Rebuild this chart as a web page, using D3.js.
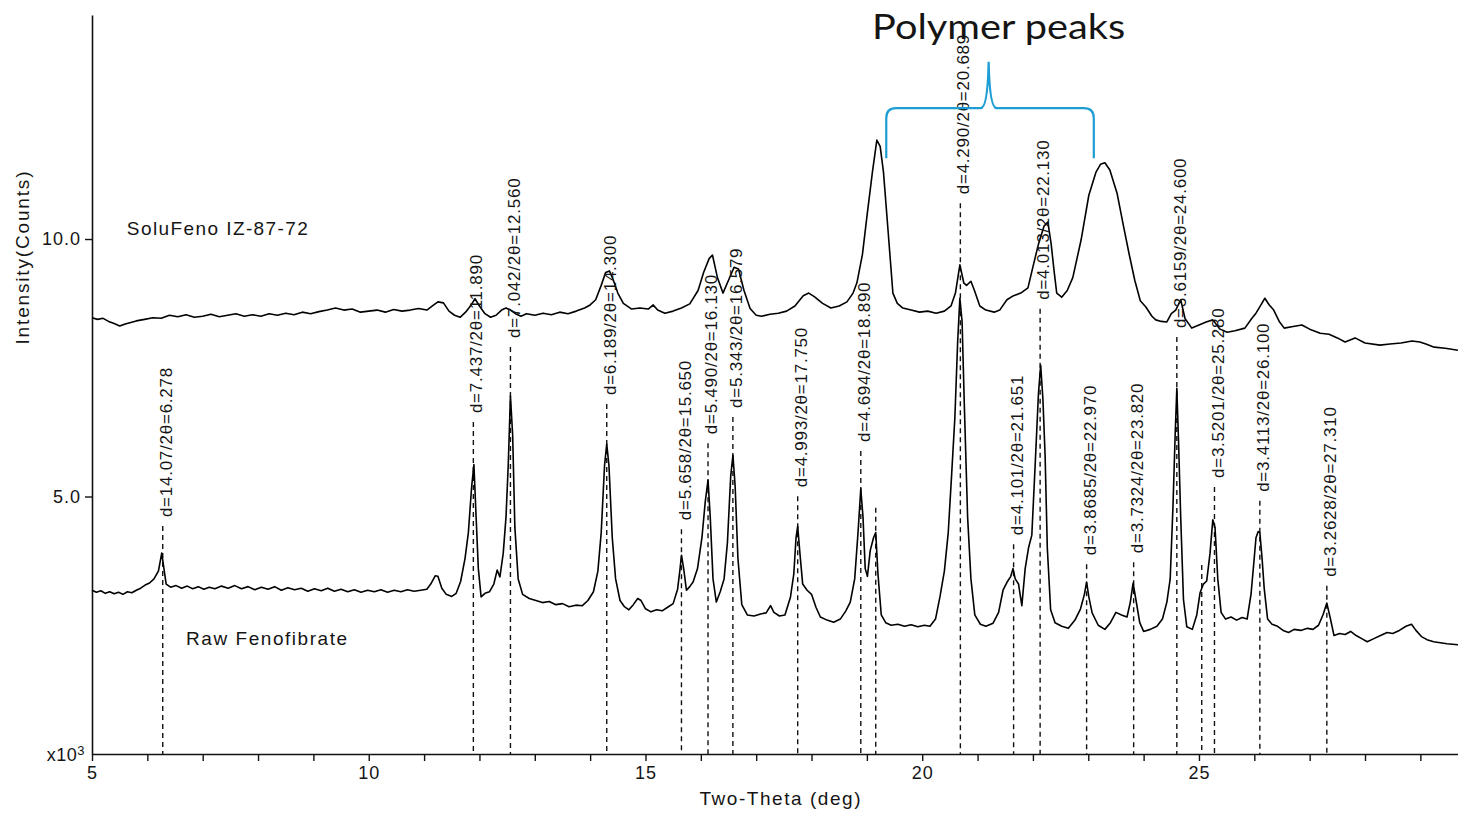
<!DOCTYPE html>
<html><head><meta charset="utf-8">
<script src="https://cdn.jsdelivr.net/npm/d3@7"></script>
<style>
body{margin:0;background:#fff;}
svg{display:block;}
text{font-family:"Liberation Sans",Arial,sans-serif;fill:#151515;}
</style>
</head><body>
<svg id="chart" width="1458" height="813"></svg>
<script>
// ---------- DATA ----------
// SoluFeno IZ-87-72 (upper pattern): 2-theta (deg) and intensity (x10^3 counts)
const soluTheta = [5.00,5.10,5.20,5.30,5.40,5.50,5.60,5.70,5.80,5.95,6.10,6.25,6.40,6.55,6.70,6.85,7.00,7.15,7.30,7.45,7.60,7.75,7.90,8.05,8.20,8.35,8.50,8.65,8.80,8.95,9.10,9.25,9.40,9.55,9.70,9.85,10.00,10.15,10.30,10.45,10.60,10.75,10.90,11.05,11.15,11.25,11.35,11.45,11.55,11.65,11.75,11.85,11.92,12.00,12.10,12.20,12.30,12.40,12.48,12.56,12.65,12.75,12.85,13.00,13.15,13.30,13.45,13.60,13.75,13.90,14.00,14.10,14.20,14.28,14.35,14.42,14.50,14.60,14.75,14.90,15.05,15.14,15.22,15.35,15.50,15.65,15.80,15.95,16.05,16.15,16.21,16.30,16.40,16.50,16.60,16.68,16.78,16.89,17.00,17.10,17.25,17.40,17.55,17.70,17.85,17.95,18.05,18.20,18.35,18.50,18.64,18.75,18.82,18.92,19.00,19.10,19.18,19.24,19.30,19.38,19.47,19.55,19.65,19.80,19.95,20.10,20.25,20.40,20.52,20.60,20.68,20.75,20.80,20.88,20.95,21.04,21.15,21.30,21.40,21.53,21.65,21.78,21.91,22.00,22.10,22.20,22.27,22.33,22.38,22.43,22.52,22.62,22.72,22.87,23.01,23.14,23.22,23.30,23.39,23.52,23.64,23.74,23.84,23.94,24.04,24.15,24.22,24.32,24.42,24.50,24.58,24.67,24.75,24.87,25.00,25.13,25.25,25.38,25.51,25.65,25.83,25.95,26.03,26.12,26.19,26.27,26.35,26.45,26.54,26.70,26.86,27.00,27.19,27.35,27.50,27.64,27.82,28.00,28.27,28.45,28.65,28.85,28.99,29.10,29.25,29.45,29.68];
const soluCounts = [8.47,8.44,8.46,8.40,8.36,8.31,8.35,8.38,8.41,8.44,8.47,8.46,8.52,8.49,8.53,8.48,8.50,8.54,8.49,8.52,8.55,8.50,8.53,8.50,8.55,8.52,8.56,8.53,8.58,8.55,8.59,8.62,8.66,8.62,8.64,8.58,8.60,8.62,8.58,8.63,8.60,8.62,8.65,8.62,8.70,8.78,8.76,8.60,8.52,8.48,8.58,8.72,8.84,8.70,8.55,8.48,8.52,8.62,8.66,8.62,8.55,8.50,8.55,8.52,8.56,8.53,8.58,8.55,8.60,8.66,8.72,8.82,9.10,9.35,9.38,9.20,8.95,8.75,8.64,8.66,8.64,8.72,8.62,8.56,8.60,8.66,8.74,9.00,9.35,9.62,9.69,9.25,8.95,9.20,9.45,9.42,9.00,8.65,8.52,8.50,8.54,8.56,8.60,8.70,8.90,8.95,8.88,8.75,8.66,8.70,8.78,8.95,9.15,9.70,10.43,11.30,11.92,11.80,11.30,10.20,8.95,8.75,8.66,8.62,8.58,8.60,8.56,8.60,8.70,8.95,9.50,9.15,9.10,9.18,8.98,8.70,8.62,8.58,8.62,8.82,8.90,8.95,9.05,9.46,9.90,10.25,10.33,9.90,9.40,8.95,8.87,9.00,9.25,9.98,10.85,11.30,11.45,11.48,11.34,10.89,10.23,9.70,9.20,8.80,8.68,8.50,8.43,8.40,8.39,8.55,8.62,8.82,8.45,8.27,8.33,8.39,8.43,8.25,8.19,8.22,8.27,8.45,8.56,8.72,8.85,8.72,8.62,8.40,8.27,8.30,8.33,8.25,8.17,8.15,8.08,8.00,8.08,7.98,7.94,7.96,7.98,8.02,8.00,7.96,7.90,7.88,7.84];

// Raw Fenofibrate (lower pattern)
const rawTheta = [5.00,5.08,5.16,5.24,5.32,5.40,5.48,5.56,5.64,5.72,5.80,5.88,5.96,6.04,6.12,6.20,6.26,6.30,6.34,6.42,6.52,6.62,6.72,6.82,6.92,7.02,7.12,7.22,7.34,7.46,7.58,7.70,7.82,7.94,8.06,8.18,8.30,8.42,8.54,8.66,8.78,8.90,9.02,9.14,9.26,9.38,9.50,9.62,9.74,9.86,9.98,10.10,10.22,10.34,10.46,10.58,10.70,10.82,10.94,11.05,11.12,11.20,11.25,11.32,11.40,11.50,11.58,11.66,11.74,11.80,11.86,11.90,11.94,11.98,12.03,12.10,12.18,12.26,12.32,12.37,12.43,12.48,12.52,12.56,12.60,12.64,12.70,12.78,12.90,13.02,13.14,13.26,13.38,13.50,13.62,13.74,13.86,13.96,14.06,14.14,14.20,14.26,14.30,14.34,14.40,14.46,14.54,14.62,14.70,14.78,14.86,14.92,15.00,15.10,15.20,15.30,15.40,15.50,15.58,15.62,15.65,15.69,15.74,15.80,15.86,15.94,16.02,16.08,16.13,16.17,16.22,16.28,16.35,16.42,16.48,16.54,16.58,16.62,16.67,16.74,16.84,16.96,17.08,17.18,17.26,17.32,17.42,17.52,17.62,17.68,17.72,17.75,17.79,17.84,17.92,18.00,18.08,18.16,18.28,18.40,18.52,18.62,18.70,18.78,18.84,18.89,18.93,18.97,19.01,19.06,19.12,19.16,19.20,19.26,19.34,19.44,19.56,19.68,19.80,19.92,20.04,20.14,20.24,20.32,20.40,20.47,20.53,20.59,20.64,20.68,20.72,20.76,20.82,20.88,20.95,21.05,21.15,21.28,21.38,21.46,21.54,21.60,21.64,21.68,21.74,21.80,21.86,21.92,21.98,22.04,22.10,22.14,22.18,22.22,22.26,22.32,22.40,22.52,22.64,22.76,22.86,22.93,22.97,23.01,23.07,23.18,23.30,23.40,23.50,23.60,23.70,23.76,23.81,23.86,23.93,24.00,24.12,24.24,24.34,24.42,24.48,24.53,24.57,24.60,24.63,24.67,24.72,24.78,24.88,24.96,25.02,25.08,25.14,25.20,25.25,25.29,25.34,25.40,25.48,25.58,25.68,25.78,25.87,25.94,25.99,26.03,26.07,26.10,26.14,26.18,26.24,26.32,26.42,26.52,26.62,26.72,26.84,26.96,27.06,27.16,27.24,27.31,27.37,27.44,27.54,27.64,27.74,27.84,27.94,28.04,28.16,28.28,28.40,28.50,28.62,28.74,28.84,28.92,29.02,29.12,29.24,29.36,29.48,29.58,29.68];
const rawCounts = [3.18,3.14,3.17,3.12,3.15,3.11,3.14,3.10,3.15,3.13,3.18,3.22,3.28,3.32,3.40,3.55,3.90,3.60,3.30,3.24,3.27,3.22,3.26,3.21,3.25,3.20,3.24,3.21,3.26,3.22,3.27,3.21,3.25,3.19,3.24,3.20,3.25,3.18,3.23,3.19,3.22,3.16,3.21,3.17,3.22,3.16,3.20,3.15,3.19,3.14,3.18,3.15,3.19,3.14,3.18,3.15,3.19,3.16,3.18,3.20,3.30,3.46,3.45,3.22,3.10,3.06,3.12,3.35,3.80,4.30,5.20,5.62,4.60,3.60,3.05,3.12,3.15,3.30,3.57,3.44,3.90,4.60,5.60,6.95,6.20,4.40,3.40,3.10,3.02,2.98,2.94,2.96,2.90,2.92,2.86,2.89,2.88,2.98,3.15,3.55,4.30,5.60,6.02,5.60,4.20,3.40,2.98,2.86,2.80,2.90,3.02,2.98,2.82,2.76,2.80,2.78,2.85,2.92,3.20,3.55,3.86,3.60,3.18,3.25,3.34,3.60,4.20,4.90,5.32,4.60,3.40,2.95,3.15,3.40,4.10,5.40,5.80,5.20,3.80,2.90,2.70,2.68,2.72,2.74,2.88,2.75,2.68,2.70,3.05,3.50,4.20,4.42,3.90,3.30,3.18,3.10,2.85,2.66,2.60,2.56,2.62,2.78,2.95,3.40,4.30,5.15,4.60,3.60,3.45,3.95,4.20,4.30,3.50,2.70,2.55,2.50,2.52,2.48,2.51,2.47,2.50,2.48,2.62,3.05,3.55,4.30,5.40,6.54,8.00,8.85,8.40,6.80,4.60,3.40,2.70,2.52,2.48,2.54,2.75,3.18,3.35,3.45,3.60,3.40,3.30,2.88,3.60,4.00,4.25,5.60,7.00,7.55,6.90,5.80,4.00,2.80,2.55,2.48,2.44,2.60,2.82,3.10,3.34,3.05,2.74,2.50,2.42,2.55,2.75,2.70,2.66,2.95,3.32,3.00,2.55,2.38,2.42,2.48,2.62,2.95,3.40,4.80,6.20,7.10,6.10,4.60,3.00,2.47,2.42,2.70,3.13,3.30,3.36,3.90,4.55,4.40,3.40,2.75,2.62,2.66,2.60,2.65,2.62,3.10,3.70,4.20,4.32,4.30,3.80,3.20,2.62,2.52,2.48,2.40,2.36,2.42,2.40,2.44,2.42,2.50,2.70,2.93,2.65,2.30,2.34,2.32,2.38,2.30,2.24,2.18,2.24,2.30,2.36,2.34,2.40,2.48,2.52,2.40,2.28,2.22,2.18,2.16,2.14,2.13,2.12];

// Peak markers: 2-theta, label, intensity level where the label starts
const peakTheta  = [6.278,11.890,12.560,14.300,15.650,16.130,16.579,17.750,18.890,20.689,21.651,22.130,22.970,23.820,24.600,25.280,26.100,27.310];
const peakLabels = ["d=14.07/2θ=6.278","d=7.437/2θ=11.890","d=7.042/2θ=12.560","d=6.189/2θ=14.300","d=5.658/2θ=15.650","d=5.490/2θ=16.130","d=5.343/2θ=16.579","d=4.993/2θ=17.750","d=4.694/2θ=18.890","d=4.290/2θ=20.689","d=4.101/2θ=21.651","d=4.013/2θ=22.130","d=3.8685/2θ=22.970","d=3.7324/2θ=23.820","d=3.6159/2θ=24.600","d=3.5201/2θ=25.280","d=3.4113/2θ=26.100","d=3.2628/2θ=27.310"];
const peakLabelLevel = [4.60,6.62,8.08,6.97,4.54,6.21,6.72,5.18,6.06,10.87,4.25,8.82,3.86,3.90,8.27,5.36,5.09,3.44];
// Unlabelled markers
const extraTheta = [19.16,25.05];
const extraLevel = [4.78,3.67];

// Axis ticks
const xTicks = [5,6,7,8,9,10,11,12,13,14,15,16,17,18,19,20,21,22,23,24,25,26,27,28,29];
const xTickLabels = [5,10,15,20,25];
const yTicks = [5,10];

// Polymer-peak bracket (2-theta range) and levels
const bracketRange = [19.35, 23.10];
const bracketTip = 21.20;

// ---------- CHART ----------
const svg = d3.select("#chart");
const x = d3.scaleLinear().domain([5, 29.68]).range([92, 1458]);
const y = d3.scaleLinear().domain([0, 14.35]).range([754, 15]);

// axes
const xAxis = d3.axisBottom(x).tickValues(xTicks)
  .tickFormat(d => xTickLabels.includes(d) ? d : "")
  .tickSize(7).tickSizeOuter(0).tickPadding(5);
const gx = svg.append("g").attr("transform", `translate(0,${y(0)})`).call(xAxis);
const yAxis = d3.axisLeft(y).tickValues(yTicks).tickFormat(d3.format(".1f"))
  .tickSize(7).tickSizeOuter(0).tickPadding(4);
const gy = svg.append("g").attr("transform", `translate(${x(5)},0)`).call(yAxis);
[gx, gy].forEach(g => {
  g.select(".domain").attr("stroke", "#111").attr("stroke-width", 1.6);
  g.selectAll(".tick line").attr("stroke", "#111").attr("stroke-width", 1.4);
  g.selectAll(".tick text").style("font-family", '"Liberation Sans",Arial,sans-serif')
    .style("font-size", "18px").style("letter-spacing", "1px").attr("fill", "#1a1a1a");
});

// x10^3 at origin
const xt = svg.append("text").attr("x", x(5) - 7).attr("y", y(0)).attr("dy", "0.38em")
  .attr("text-anchor", "end").style("font-size", "18px").style("letter-spacing", "0.5px");
xt.append("tspan").text("x10");
xt.append("tspan").attr("dy", "-0.45em").style("font-size", "13px").text("3");

// axis titles
svg.append("text").attr("transform", `translate(29,258) rotate(-90)`)
  .attr("text-anchor", "middle").style("font-size", "19px")
  .attr("textLength", 173).attr("lengthAdjust", "spacing").text("Intensity(Counts)");
svg.append("text").attr("x", 780).attr("y", 805).attr("text-anchor", "middle")
  .style("font-size", "19px").attr("textLength", 161).attr("lengthAdjust", "spacing")
  .text("Two-Theta (deg)");

// peak marker dashed lines
const dashColor = "#111";
svg.append("g").selectAll("line.pk").data(peakTheta).join("line")
  .attr("x1", d => x(d)).attr("x2", d => x(d))
  .attr("y1", (d, i) => y(peakLabelLevel[i]) + 9).attr("y2", y(0))
  .attr("stroke", dashColor).attr("stroke-width", 1.4).attr("stroke-dasharray", "5,4");
svg.append("g").selectAll("line.ex").data(extraTheta).join("line")
  .attr("x1", d => x(d)).attr("x2", d => x(d))
  .attr("y1", (d, i) => y(extraLevel[i])).attr("y2", y(0))
  .attr("stroke", dashColor).attr("stroke-width", 1.4).attr("stroke-dasharray", "5,4");

// traces
const line = d3.line().x(d => x(d[0])).y(d => y(d[1]));
const soluData = soluTheta.map((t, i) => [t, soluCounts[i]]);
const rawData = rawTheta.map((t, i) => [t, rawCounts[i]]);
svg.append("path").datum(rawData).attr("d", line)
  .attr("fill", "none").attr("stroke", "#000").attr("stroke-width", 1.6).attr("stroke-linejoin", "round");
svg.append("path").datum(soluData).attr("d", line)
  .attr("fill", "none").attr("stroke", "#000").attr("stroke-width", 1.6).attr("stroke-linejoin", "round");

// peak labels (rotated)
svg.append("g").selectAll("text").data(peakTheta).join("text")
  .attr("transform", (d, i) => `translate(${x(d) + 3},${y(peakLabelLevel[i])}) rotate(-90)`)
  .attr("dy", "0.36em").attr("text-anchor", "start")
  .style("font-size", "17px").style("letter-spacing", "0.75px").attr("fill", "#151515")
  .text((d, i) => peakLabels[i]);

// series labels
svg.append("text").attr("x", x(5.63)).attr("y", y(10.22)).attr("dy", "0.36em")
  .style("font-size", "19px").attr("textLength", 181).attr("lengthAdjust", "spacing")
  .text("SoluFeno IZ-87-72");
svg.append("text").attr("x", x(6.70)).attr("y", y(2.25)).attr("dy", "0.36em")
  .style("font-size", "19px").attr("textLength", 161).attr("lengthAdjust", "spacing")
  .text("Raw Fenofibrate");

// polymer bracket
const bL = x(bracketRange[0]), bR = x(bracketRange[1]), bT = x(bracketTip);
const yB = y(11.57), yH = y(12.54), yTip = y(13.44), r = 10;
const bp = d3.path();
bp.moveTo(bL, yB); bp.lineTo(bL, yH + r); bp.quadraticCurveTo(bL, yH, bL + r, yH);
bp.lineTo(bT - 8, yH); bp.quadraticCurveTo(bT - 1, yH, bT, yTip);
bp.quadraticCurveTo(bT + 1, yH, bT + 8, yH);
bp.lineTo(bR - r, yH); bp.quadraticCurveTo(bR, yH, bR, yH + r); bp.lineTo(bR, yB);
svg.append("path").attr("d", bp.toString()).attr("fill", "none")
  .attr("stroke", "#1c9dd3").attr("stroke-width", 2.2);

svg.append("text").attr("x", x(21.38)).attr("y", 39).attr("text-anchor", "middle")
  .style("font-family", "Lato,'Open Sans',sans-serif").style("font-size", "35px")
  .attr("fill", "#0d2a6a").attr("textLength", 253).attr("lengthAdjust", "spacingAndGlyphs")
  .text("Polymer peaks");
</script>
</body></html>
